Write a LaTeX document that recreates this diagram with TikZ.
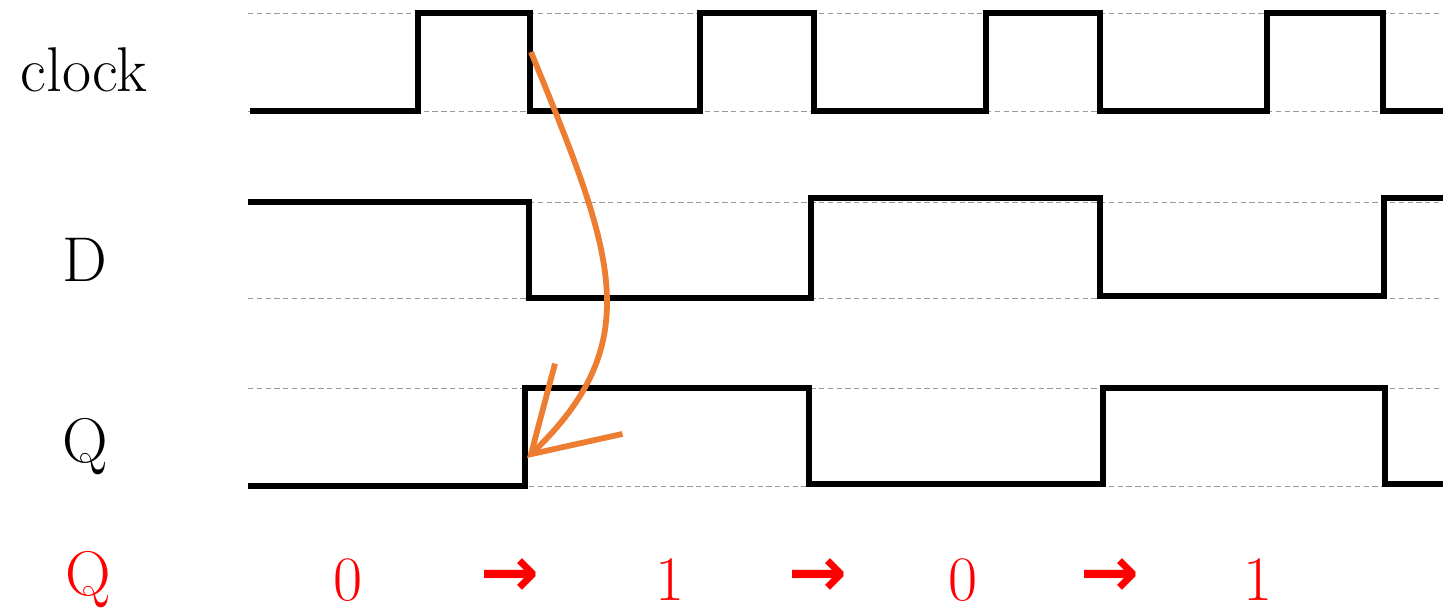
\documentclass[tikz,border=0pt]{standalone}
\usepackage{fontspec}
\newfontfamily\arrowfont{DejaVu Sans}
\usetikzlibrary{arrows.meta}
\definecolor{arroworange}{RGB}{237,125,49}

\begin{document}
\begin{tikzpicture}[x=0.02cm,y=-0.02cm]
                      \tikzstyle{wave}=[line width=3.3pt,black,line join=miter]
                      \tikzstyle{levelline}=[gray!80,line width=0.5pt,dash pattern=on 3pt off 2pt]
                      \tikzstyle{sig}=[font=\fontsize{36}{40}\selectfont,inner sep=0pt]
                      \tikzstyle{state}=[sig,red]
                      \tikzstyle{step arrow}=[state,font=\arrowfont\fontsize{40}{44}\selectfont\bfseries]
                      \useasboundingbox (0,0) rectangle (1443,612);
                      % high and low levels
                      \foreach \y in {13,111,202,298,388,486}
                        \draw[levelline] (248,\y) -- (1443,\y);
                      % signal names
                      \node[sig] (clk) at (84,70) {clock};
                      \node[sig] (d) at (85,260) {D};
                      \node[sig] (q) at (85,447) {Q};
                      % waveforms
                      \draw[wave] (250,111) -- (418,111) -- (418,13) -- (530,13) -- (530,111) -- (700,111) -- (700,13) -- (814,13) -- (814,111)
                        -- (986,111) -- (986,13) -- (1100,13) -- (1100,111) -- (1267,111) -- (1267,13) -- (1383,13) -- (1383,111) -- (1443,111);
                      \draw[wave] (248,202) -- (529,202) -- (529,298) -- (811,298) -- (811,198) -- (1100,198) -- (1100,296) -- (1384,296) -- (1384,198) -- (1443,198);
                      \draw[wave] (248,486) -- (525,486) -- (525,388) -- (809,388) -- (809,484) -- (1103,484) -- (1103,388) -- (1385,388) -- (1385,484) -- (1443,484);
                      % edge trigger
                      \coordinate (edge) at (531,52);
                      \coordinate (qrise) at (527,458);
                      \draw[arroworange,line width=3.3pt,-{Straight Barb[length=1.6cm,width=1.95cm]}] (edge) .. controls (612,250) and (650,340) .. (qrise);
                      % state sequence
                      \node[state] (s) at (88,580) {Q};
                      \node[state] (s0) at (348,580) {0};
                      \node[step arrow] (a1) at (510,578) {→};
                      \node[state] (s1) at (670,580) {1};
                      \node[step arrow] (a2) at (818,578) {→};
                      \node[state] (s2) at (963,580) {0};
                      \node[step arrow] (a3) at (1110,578) {→};
                      \node[state] (s3) at (1258,580) {1};
                  \end{tikzpicture}
\end{document}
